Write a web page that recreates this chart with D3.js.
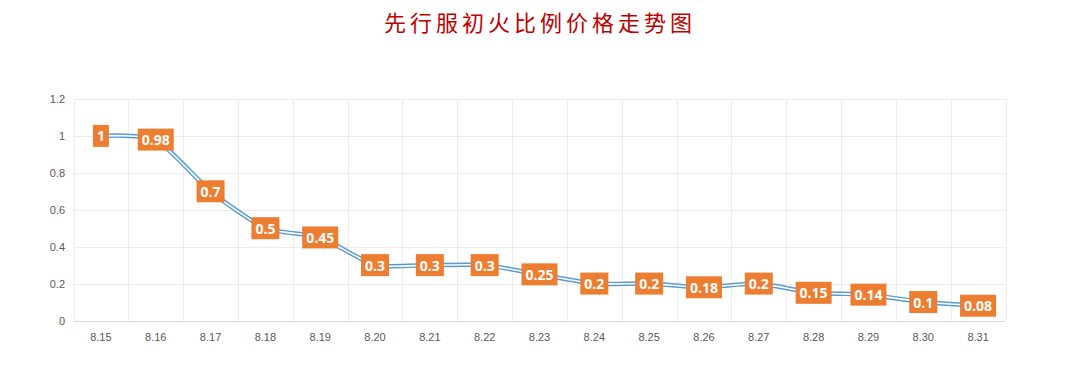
<!DOCTYPE html>
<html><head><meta charset="utf-8">
<script src="https://cdn.jsdelivr.net/npm/d3@7/dist/d3.min.js"></script>
<style>html,body{margin:0;padding:0;background:#fff;}svg{display:block;}</style>
</head><body>
<script>
const title = "先行服初火比例价格走势图";
const categories = ["8.15","8.16","8.17","8.18","8.19","8.20","8.21","8.22","8.23","8.24","8.25","8.26","8.27","8.28","8.29","8.30","8.31"];
const values = [1, 0.98, 0.7, 0.5, 0.45, 0.3, 0.3, 0.3, 0.25, 0.2, 0.2, 0.18, 0.2, 0.15, 0.14, 0.1, 0.08];
const yTicks = [0, 0.2, 0.4, 0.6, 0.8, 1, 1.2];

const W = 1080, H = 375;
const m = {left: 73.5, right: 74.5, top: 99, bottom: 54.5};
const svg = d3.select("body").append("svg").attr("width", W).attr("height", H);

const x = d3.scaleBand().domain(categories).range([m.left, W - m.right]);
const y = d3.scaleLinear().domain([0, 1.2]).range([H - m.bottom, m.top]);

svg.append("text").attr("x", 540).attr("y", 31).attr("text-anchor", "middle")
  .attr("font-family", "'Noto Sans CJK SC'").attr("font-size", 22)
  .attr("letter-spacing", 4).attr("fill", "#C00000").text(title);

const g = svg.append("g");
g.selectAll(".hg").data(yTicks.slice(1)).join("line")
  .attr("x1", m.left).attr("x2", W - m.right)
  .attr("y1", d => Math.round(y(d)) + 0.5).attr("y2", d => Math.round(y(d)) + 0.5)
  .attr("stroke", "#ececec");
const bounds = categories.map(c => x(c)).concat([x(categories[categories.length-1]) + x.bandwidth()]);
g.selectAll(".vg").data(bounds).join("line")
  .attr("x1", d => Math.round(d) + 0.5).attr("x2", d => Math.round(d) + 0.5)
  .attr("y1", m.top).attr("y2", H - m.bottom)
  .attr("stroke", "#ececec");
g.append("line").attr("x1", m.left).attr("x2", W - m.right)
  .attr("y1", Math.round(y(0)) + 0.5).attr("y2", Math.round(y(0)) + 0.5)
  .attr("stroke", "#d9d9d9");

g.selectAll(".yl").data(yTicks).join("text")
  .attr("x", 65).attr("y", d => y(d) + 4).attr("text-anchor", "end")
  .attr("font-family", "'Liberation Sans', Arial").attr("font-size", 11)
  .attr("fill", "#595959").text(d => d);
g.selectAll(".xl").data(categories).join("text")
  .attr("x", d => x(d) + x.bandwidth()/2).attr("y", H - m.bottom + 20).attr("text-anchor", "middle")
  .attr("font-family", "'Liberation Sans', Arial").attr("font-size", 11)
  .attr("fill", "#595959").text(d => d);

const line = d3.line().x((d, i) => x(categories[i]) + x.bandwidth()/2).y(d => y(d))
  .curve(d3.curveCardinal.tension(0.4));
g.append("path").datum(values).attr("d", line).attr("fill", "none")
  .attr("stroke", "#5B9BD5").attr("stroke-width", 4.5);
g.append("path").datum(values).attr("d", line).attr("fill", "none")
  .attr("stroke", "#fff").attr("stroke-width", 1.6);

const lbl = g.selectAll(".lb").data(values).join("g")
  .attr("transform", (d, i) => `translate(${x(categories[i]) + x.bandwidth()/2},${y(d)})`);
lbl.each(function(d) {
  const s = d3.select(this);
  const t = s.append("text").attr("text-anchor", "middle").attr("y", 5.5)
    .attr("font-family", "'Open Sans', 'DejaVu Sans'").attr("font-weight", "bold")
    .attr("font-size", 14).attr("fill", "#fff").text(d);
  const w = t.node().getComputedTextLength();
  s.insert("rect", "text").attr("x", -w/2 - 4).attr("y", -11).attr("width", w + 8).attr("height", 22)
    .attr("fill", "#ED7D31");
});
</script>
</body></html>
